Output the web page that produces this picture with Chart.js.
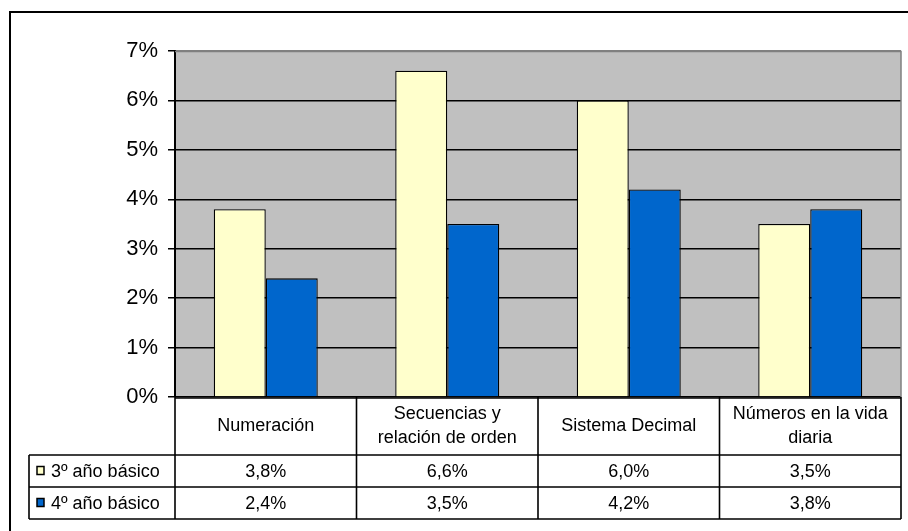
<!DOCTYPE html>
<html>
<head>
<meta charset="utf-8">
<script src="https://cdn.jsdelivr.net/npm/chart.js@4/dist/chart.umd.min.js"></script>
<style>
  body { margin: 0; background: #fff; }
  canvas { display: block; }
</style>
</head>
<body>
<canvas id="chart" width="908" height="531"></canvas>
<script>
// data
const categories = [
  ['Numeración'],
  ['Secuencias y', 'relación de orden'],
  ['Sistema Decimal'],
  ['Números en la vida', 'diaria']
];
const seriesNames = ['3º año básico', '4º año básico'];
const tercero = [3.8, 6.6, 6.0, 3.5];
const cuarto = [2.4, 3.5, 4.2, 3.8];
const yTicks = [0, 1, 2, 3, 4, 5, 6, 7];

const colors = ['#FFFFCC', '#0066CC'];
const FONT = '"Liberation Sans", Arial, sans-serif';

const fmt = (v) => v.toFixed(1).replace('.', ',') + '%';

// gray plot background, outer frame and the data table under the plot
const tablePlugin = {
  id: 'dataTable',
  beforeDraw(chart) {
    const { ctx, chartArea: a } = chart;
    ctx.save();
    ctx.fillStyle = '#C0C0C0';
    ctx.fillRect(a.left, a.top, a.right - a.left, a.bottom - a.top);
    // outer frame
    ctx.strokeStyle = '#000';
    ctx.lineWidth = 2;
    ctx.beginPath();
    ctx.moveTo(10, 531);
    ctx.lineTo(10, 12);
    ctx.lineTo(908, 12);
    ctx.stroke();
    ctx.restore();
  },
  afterDraw(chart) {
    const { ctx, chartArea: a } = chart;
    const xs = chart.scales.x;
    const n = categories.length;
    const cw = (a.right - a.left) / n;
    const headTop = a.bottom, row1 = 455, row2 = 487, bottom = 519;
    const legLeft = 29;

    ctx.save();
    // gray border on top/right of plot
    ctx.strokeStyle = '#808080';
    ctx.lineWidth = 1.5;
    ctx.beginPath();
    ctx.moveTo(a.left, a.top + 0.5);
    ctx.lineTo(a.right, a.top + 0.5);
    ctx.lineTo(a.right, a.bottom);
    ctx.stroke();

    ctx.strokeStyle = '#000';
    ctx.lineWidth = 1.6;
    ctx.beginPath();
    ctx.moveTo(a.left, headTop + 1);
    ctx.lineTo(a.right, headTop + 1);
    [row1, row2, bottom].forEach((y) => {
      ctx.moveTo(legLeft, y);
      ctx.lineTo(a.right, y);
    });
    ctx.moveTo(legLeft, row1);
    ctx.lineTo(legLeft, bottom);
    for (let i = 0; i <= n; i++) {
      const x = a.left + i * cw;
      ctx.moveTo(x, headTop);
      ctx.lineTo(x, bottom);
    }
    ctx.stroke();

    ctx.fillStyle = '#000';
    ctx.font = '18px ' + FONT;
    ctx.textAlign = 'center';
    ctx.textBaseline = 'middle';
    const headMid = (headTop + row1) / 2 + 0.5;
    categories.forEach((lines, i) => {
      const cx = xs.getPixelForValue(i);
      const start = headMid - (lines.length - 1) * 12;
      lines.forEach((t, j) => ctx.fillText(t, cx, start + j * 24));
      ctx.fillText(fmt(tercero[i]), cx, (row1 + row2) / 2 + 1);
      ctx.fillText(fmt(cuarto[i]), cx, (row2 + bottom) / 2 + 1);
    });

    // legend keys
    ctx.textAlign = 'left';
    [[row1, row2], [row2, bottom]].forEach(([t, b], k) => {
      const cy = (t + b) / 2;
      ctx.fillStyle = colors[k];
      ctx.fillRect(37, cy - 4.5, 7, 8);
      ctx.strokeStyle = '#000';
      ctx.lineWidth = 1.5;
      ctx.strokeRect(37, cy - 4.5, 7, 8);
      ctx.fillStyle = '#000';
      ctx.fillText(seriesNames[k], 51, cy + 1);
    });
    ctx.restore();
  }
};

new Chart(document.getElementById('chart'), {
  type: 'bar',
  data: {
    labels: categories,
    datasets: [
      {
        label: seriesNames[0],
        data: tercero,
        backgroundColor: colors[0],
        borderColor: '#000',
        borderWidth: 1.3
      },
      {
        label: seriesNames[1],
        data: cuarto,
        backgroundColor: colors[1],
        borderColor: '#000',
        borderWidth: 1.3
      }
    ]
  },
  options: {
    responsive: false,
    animation: false,
    events: [],
    categoryPercentage: 0.573,
    barPercentage: 1,
    layout: { padding: { left: 0, top: 51, right: 7, bottom: 134 } },
    plugins: { legend: { display: false }, tooltip: { enabled: false } },
    scales: {
      x: { display: false },
      y: {
        min: 0,
        max: 7,
        afterFit: (scale) => { scale.width = 175; },
        afterBuildTicks: (scale) => { scale.ticks = yTicks.map((v) => ({ value: v })); },
        ticks: {
          color: '#000',
          padding: 10,
          font: { family: FONT, size: 22 },
          callback: (v) => v + '%'
        },
        grid: {
          color: (c) => (c.tick && c.tick.value === 7 ? '#808080' : '#000'),
          lineWidth: 1.5,
          tickLength: 7,
          tickColor: '#000'
        },
        border: { color: '#000', width: 2 }
      }
    }
  },
  plugins: [tablePlugin]
});
</script>
</body>
</html>
